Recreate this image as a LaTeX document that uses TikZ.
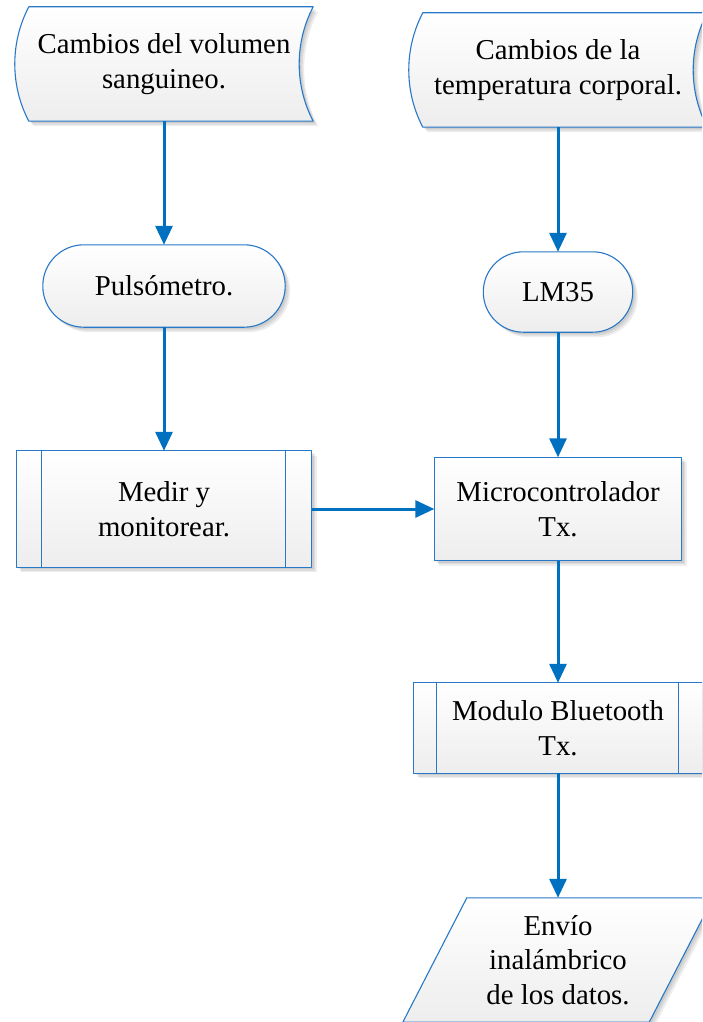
\documentclass[tikz,border=0pt]{standalone}
\usepackage{fontspec}
\setmainfont{Liberation Serif}
\usetikzlibrary{arrows.meta,calc,backgrounds}

\definecolor{flowblue}{RGB}{0,112,192}
\definecolor{outlineblue}{RGB}{40,120,200}

\tikzset{
  block/.style={rectangle, draw=none, inner sep=0pt, align=center,
    font=\fontsize{28.8}{34.5}\selectfont},
  outline/.style={draw=outlineblue, line width=1.1pt, line join=round,
    top color=white, bottom color=black!7},
  divider/.style={draw=outlineblue, line width=1.1pt},
  shadowtone/.style={fill=black, opacity=0.07},
  flow/.style={draw=flowblue, line width=3pt,
    -{Triangle[length=19pt,width=17pt]}}
}

% outlines built on the anchors of the (invisible) rectangle nodes
\newcommand\storedpath[1]{($(#1.north west)+(14,0)$) -- (#1.north east)
  .. controls ($(#1.north east)+(-18.7,35.7)$) and ($(#1.south east)+(-18.7,-35.7)$) .. (#1.south east)
  -- ($(#1.south west)+(14,0)$)
  .. controls ($(#1.south west)+(-4.7,-35.7)$) and ($(#1.north west)+(-4.7,35.7)$) .. ($(#1.north west)+(14,0)$)
  -- cycle}
\newcommand\stadiumpath[2]{(#1.north west) [rounded corners=#2] rectangle (#1.south east)}
\newcommand\boxpath[1]{(#1.north west) rectangle (#1.south east)}
\newcommand\slantpath[1]{($(#1.north west)+(64,0)$) -- (#1.north east)
  -- ($(#1.south east)+(-64,0)$) -- (#1.south west) -- cycle}
\newcommand\dropshadow[1]{%
  \foreach \s in {2,3.5,5}{%
    \begin{scope}[transform canvas={shift={(\s,\s)}}]
      \fill[shadowtone] #1;
    \end{scope}}}

\begin{document}
\begin{tikzpicture}[x=1pt,y=-1pt]
\useasboundingbox (0,0) rectangle (702,1022);

% nodes carrying the texts
\node[block, minimum width=298pt, minimum height=114pt] (vol) at (164,64)
  {Cambios del volumen\\sanguineo.};
\node[block, minimum width=298pt, minimum height=114pt] (temp) at (558,70)
  {Cambios de la\\temperatura corporal.};
\node[block, minimum width=242pt, minimum height=82pt] (pulse) at (164,286)
  {Puls\'ometro.};
\node[block, minimum width=149pt, minimum height=80pt] (lm) at (558,292)
  {LM35};
\node[block, minimum width=295pt, minimum height=116pt] (measure) at (164,509)
  {Medir y\\monitorear.};
\node[block, minimum width=247pt, minimum height=103pt] (mcu) at (558,509)
  {Microcontrolador\\Tx.};
\node[block, minimum width=288pt, minimum height=90pt] (bt) at (558,728)
  {Modulo Bluetooth\\Tx.};
\node[block, minimum width=310pt, minimum height=124pt] (send) at (558,960)
  {Env\'io\\inal\'ambrico\\de los datos.};

% shapes behind the texts
\begin{pgfonlayer}{background}
  \clip (0,0) rectangle (702,1022);
  \dropshadow{\storedpath{vol}}
  \dropshadow{\storedpath{temp}}
  \dropshadow{\stadiumpath{pulse}{41pt}}
  \dropshadow{\stadiumpath{lm}{40pt}}
  \dropshadow{\boxpath{measure}}
  \dropshadow{\boxpath{mcu}}
  \dropshadow{\boxpath{bt}}
  \dropshadow{\slantpath{send}}

  \path[outline] \storedpath{vol};
  \path[outline] \storedpath{temp};
  \path[outline] \stadiumpath{pulse}{41pt};
  \path[outline] \stadiumpath{lm}{40pt};
  \path[outline] \boxpath{measure};
  \draw[divider] ($(measure.north west)+(25,0)$) -- ($(measure.south west)+(25,0)$);
  \draw[divider] ($(measure.north east)+(-26,0)$) -- ($(measure.south east)+(-26,0)$);
  \path[outline] \boxpath{mcu};
  \path[outline] \boxpath{bt};
  \draw[divider] ($(bt.north west)+(23,0)$) -- ($(bt.south west)+(23,0)$);
  \draw[divider] ($(bt.north east)+(-24,0)$) -- ($(bt.south east)+(-24,0)$);
  \path[outline] \slantpath{send};
\end{pgfonlayer}

% connectors
\draw[flow] (vol) -- (pulse);
\draw[flow] (pulse) -- (measure);
\draw[flow] (temp) -- (lm);
\draw[flow] (lm) -- (mcu);
\draw[flow] (measure) -- (mcu);
\draw[flow] (mcu) -- (bt);
\draw[flow] (bt) -- (send);
\end{tikzpicture}
\end{document}
